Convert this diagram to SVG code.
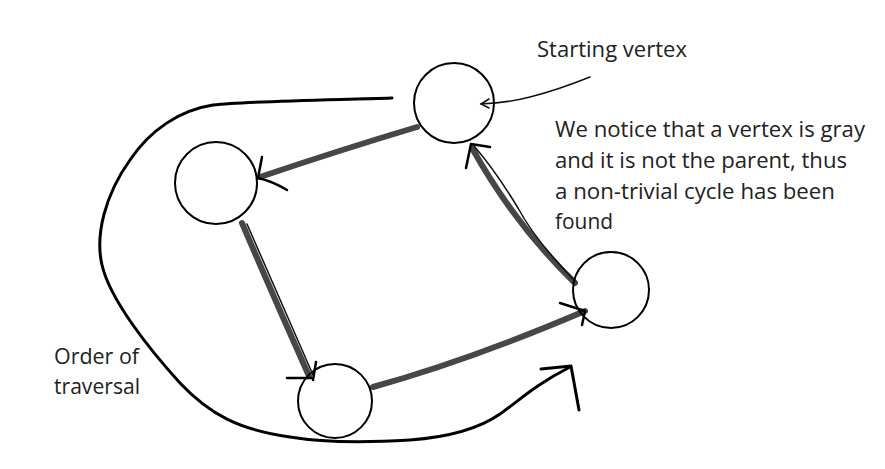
<svg xmlns="http://www.w3.org/2000/svg" width="885" height="469" viewBox="0 0 885 469">
<style>
.node{fill:none;stroke:#000;stroke-width:2}
.edge{fill:none;stroke:#474747;stroke-width:6;stroke-linecap:round}
.thin{fill:none;stroke:#111;stroke-width:1.5;stroke-linecap:round}
.head{fill:none;stroke:#000;stroke-width:2.5;stroke-linecap:round;stroke-linejoin:round}
.curve{fill:none;stroke:#000;stroke-width:3;stroke-linecap:round;stroke-linejoin:round}
.lbl{font-family:"Open Sans","Noto Sans",sans-serif;font-size:21px;fill:#222}
</style>
<rect width="885" height="469" fill="#fff"/>
<g id="connectors">
  <!-- order of traversal curve -->
  <path class="curve" d="M392,98 C330,100 250,101 213,105 C180,110 150,130 130,160 C105,195 95,235 102,265 C110,300 150,350 180,383 C210,415 240,430 290,437 C320,442 360,443 410,440 C450,437 480,428 500,414 C520,400 535,385 570,367"/>
  <path class="curve" d="M541,369 L571,366 L579,410"/>
  <!-- starting vertex pointer -->
  <path class="thin" d="M590,77 C570,85 550,92 530,97 C515,101 500,103 481,104"/>
  <path class="thin" d="M489,99 L481,104 L489,108"/>
  <!-- top -> left -->
  <path class="edge" d="M417,127 Q340,150 260,177"/>
  <path class="head" d="M262,157 L258,178 Q272,181 287,190"/>
  <!-- left -> bottom -->
  <path class="edge" d="M242,223 Q275,300 309,376"/>
  <path class="thin" d="M247,224 L313,375"/>
  <path class="head" d="M287,378 L311,378 M316,362 L313,380"/>
  <!-- bottom -> right -->
  <path class="edge" d="M373,387 Q470,360 585,311"/>
  <path class="head" d="M560,303 L585,311 L582,325"/>
  <!-- right -> top -->
  <path class="edge" d="M575,283 Q515,225 472,148"/>
  <path class="thin" d="M575,281 Q535,240 518,208 Q495,170 474,146"/>
  <path class="head" d="M466,168 L471,144 L490,147"/>
</g>
<g id="node-start"><circle class="node" cx="454" cy="103" r="40"/></g>
<g id="node-left"><circle class="node" cx="216" cy="183" r="41"/></g>
<g id="node-bottom"><circle class="node" cx="335" cy="401" r="37"/></g>
<g id="node-right"><circle class="node" cx="611" cy="290" r="38"/></g>
<g id="labels">
  <text class="lbl" x="537" y="57" textLength="150" lengthAdjust="spacingAndGlyphs">Starting vertex</text>
  <text class="lbl" x="555" y="137" textLength="310" lengthAdjust="spacingAndGlyphs">We notice that a vertex is gray</text>
  <text class="lbl" x="555" y="168" textLength="292" lengthAdjust="spacingAndGlyphs">and it is not the parent, thus</text>
  <text class="lbl" x="555" y="199" textLength="280" lengthAdjust="spacingAndGlyphs">a non-trivial cycle has been</text>
  <text class="lbl" x="555" y="229" textLength="58" lengthAdjust="spacingAndGlyphs">found</text>
  <text class="lbl" x="54" y="364" textLength="85" lengthAdjust="spacingAndGlyphs">Order of</text>
  <text class="lbl" x="54" y="394" textLength="86" lengthAdjust="spacingAndGlyphs">traversal</text>
</g>
</svg>
